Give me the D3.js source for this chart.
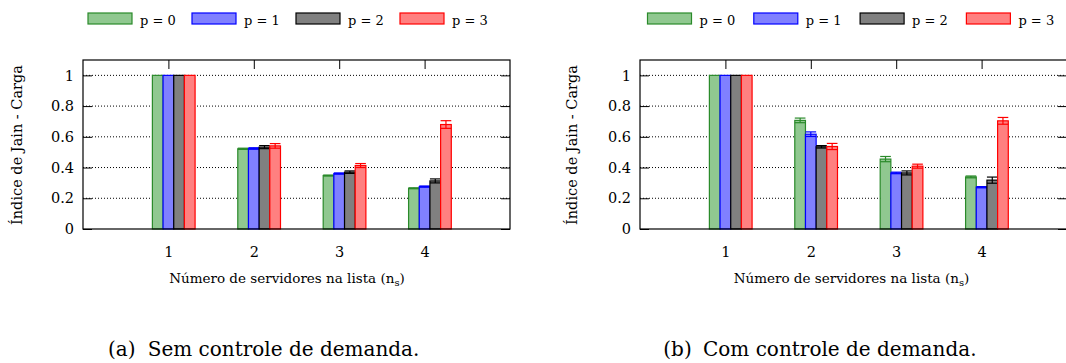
<!DOCTYPE html>
<html>
<head>
<meta charset="utf-8">
<script src="https://cdn.jsdelivr.net/npm/d3@7"></script>
<style>
  body { margin: 0; background: #fff; }
  .grid line { stroke: #000; stroke-dasharray: 1,2; stroke-width: 1; }
</style>
</head>
<body>
<svg id="chart" width="1066" height="363" font-family="DejaVu Serif"></svg>
<script>
// categories (n_s) and series
const groups = [1, 2, 3, 4];
const seriesLabels = ["p = 0", "p = 1", "p = 2", "p = 3"];
const yTicks = [0, 0.2, 0.4, 0.6, 0.8, 1];

// (a) sem controle de demanda: one row per series, one value per group
const semMean = [
  [1, 0.522, 0.348, 0.265],
  [1, 0.524, 0.361, 0.276],
  [1, 0.533, 0.370, 0.313],
  [1, 0.541, 0.413, 0.680]
];
const semErr = [
  [0, 0.004, 0.003, 0.003],
  [0, 0.005, 0.004, 0.004],
  [0, 0.010, 0.008, 0.013],
  [0, 0.015, 0.013, 0.025]
];

// (b) com controle de demanda
const comMean = [
  [1, 0.707, 0.455, 0.339],
  [1, 0.617, 0.365, 0.272],
  [1, 0.535, 0.365, 0.318],
  [1, 0.537, 0.409, 0.704]
];
const comErr = [
  [0, 0.015, 0.017, 0.006],
  [0, 0.015, 0.005, 0.004],
  [0, 0.008, 0.013, 0.020],
  [0, 0.020, 0.013, 0.022]
];

let strokes = ["#2a8a2a", "#0000ff", "#000000", "#ff0000"];
let fills = ["#90c890", "#8080ff", "#808080", "#ff8080"];

let svg = d3.select("#chart");

let drawPanel = function(p) {
  let top = 60, bottom = 229;
  let x = d3.scaleLinear().domain([0, 5]).range([p.left, p.right]);
  let y = d3.scaleLinear().domain([0, 1.1]).range([bottom, top]);
  let g = svg.append("g");
  let bw = x(0.125) - x(0);

  // dotted grid
  g.append("g").attr("class", "grid")
    .selectAll("line").data(yTicks.filter(d => d > 0)).join("line")
    .attr("x1", p.left).attr("x2", p.right)
    .attr("y1", d => y(d)).attr("y2", d => y(d));

  // y axis, ticks inward on both sides
  let ya = g.append("g").attr("transform", "translate(" + p.left + ",0)")
    .call(d3.axisLeft(y).tickValues(yTicks).tickSize(-9).tickPadding(9).tickFormat(d => String(d)));
  ya.select(".domain").remove();
  ya.attr("font-family", null).attr("font-size", 14.5);
  let yr = g.append("g").attr("transform", "translate(" + p.right + ",0)")
    .call(d3.axisRight(y).tickValues(yTicks).tickSize(-9).tickFormat(""));
  yr.select(".domain").remove();

  // x axis, ticks inward bottom and top
  let xa = g.append("g").attr("transform", "translate(0," + bottom + ")")
    .call(d3.axisBottom(x).tickValues(groups).tickSize(-9).tickPadding(17.5).tickFormat(d => String(d)));
  xa.select(".domain").remove();
  xa.attr("font-family", null).attr("font-size", 14.5);
  let xt = g.append("g").attr("transform", "translate(0," + top + ")")
    .call(d3.axisTop(x).tickValues(groups).tickSize(-9).tickFormat(""));
  xt.select(".domain").remove();

  // bars
  p.mean.forEach(function(vals, s) {
    let sg = g.append("g");
    sg.selectAll("rect").data(vals).join("rect")
      .attr("x", (d, i) => x(groups[i] + (s - 1) * 0.125 - 0.0625))
      .attr("y", d => y(d))
      .attr("width", bw)
      .attr("height", d => y(0) - y(d))
      .attr("fill", fills[s]).attr("stroke", strokes[s]).attr("stroke-width", 1.2);

    // error bars
    let eb = sg.selectAll("g.err").data(vals.map((d, i) => ({v: d, e: p.err[s][i], i: i})).filter(d => d.e > 0))
      .join("g").attr("class", "err").attr("stroke", strokes[s]).attr("stroke-width", 1.2);
    let cx = d => x(groups[d.i] + (s - 1) * 0.125);
    eb.append("line").attr("x1", cx).attr("x2", cx)
      .attr("y1", d => y(d.v - d.e)).attr("y2", d => y(d.v + d.e));
    eb.append("line").attr("x1", d => cx(d) - bw / 2).attr("x2", d => cx(d) + bw / 2)
      .attr("y1", d => y(d.v + d.e)).attr("y2", d => y(d.v + d.e));
    eb.append("line").attr("x1", d => cx(d) - bw / 2).attr("x2", d => cx(d) + bw / 2)
      .attr("y1", d => y(d.v - d.e)).attr("y2", d => y(d.v - d.e));
  });

  // frame
  g.append("rect").attr("x", p.left).attr("y", top)
    .attr("width", p.right - p.left).attr("height", bottom - top)
    .attr("fill", "none").attr("stroke", "#000").attr("stroke-width", 1.2);

  // legend
  let lg = g.append("g").selectAll("g").data(seriesLabels).join("g")
    .attr("transform", (d, i) => "translate(" + (p.legendX + i * p.legendStep) + ",13)");
  lg.append("rect").attr("width", 44).attr("height", 11)
    .attr("fill", (d, i) => fills[i]).attr("stroke", (d, i) => strokes[i]).attr("stroke-width", 1.2);
  lg.append("text").attr("x", 52).attr("y", 11.5).attr("font-size", 13).text(d => d);

  // axis titles
  g.append("text")
    .attr("transform", "translate(" + p.yTitleX + ",145) rotate(-90)")
    .attr("text-anchor", "middle").attr("font-size", 14.5)
    .text("Índice de Jain - Carga");
  let xtl = g.append("text").attr("x", p.xTitleX).attr("y", 282.5)
    .attr("text-anchor", "middle").attr("font-size", 13.5);
  xtl.append("tspan").text("Número de servidores na lista (n");
  xtl.append("tspan").attr("font-size", 10).attr("dy", 3).text("s");
  xtl.append("tspan").attr("dy", -3).text(")");

  // caption
  let cap = g.append("text").attr("y", 356).attr("font-size", 20);
  cap.append("tspan").attr("x", p.capX).text(p.capTag);
  cap.append("tspan").attr("x", p.capX + 39.7).text(p.capText);
};

drawPanel({left: 83, right: 510, mean: semMean, err: semErr,
  legendX: 88, legendStep: 104, yTitleX: 22, xTitleX: 287,
  capX: 108, capTag: "(a)", capText: "Sem controle de demanda."});
drawPanel({left: 640, right: 1067, mean: comMean, err: comErr,
  legendX: 647.5, legendStep: 106.3, yTitleX: 576.5, xTitleX: 851.5,
  capX: 663.3, capTag: "(b)", capText: "Com controle de demanda."});
</script>
</body>
</html>
